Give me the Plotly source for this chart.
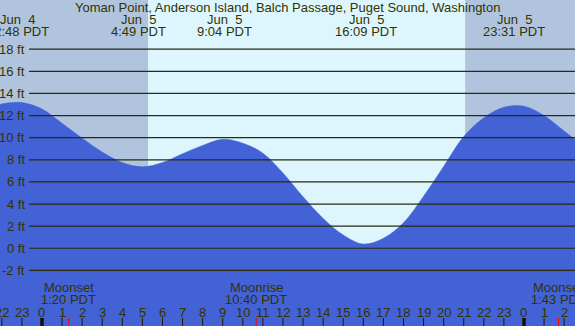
import plotly.graph_objects as go

# ---------------- data ----------------
title = "Yoman Point, Anderson Island, Balch Passage, Puget Sound, Washington"

# tide heights (ft); hours relative to Jun 5 00:00 PDT
tide_hours = [-3, -2, -1, 0, 1, 2, 3, 4, 5, 6, 7, 8, 9, 10, 11, 12, 13, 14, 15, 16,
              17, 18, 19, 20, 21, 22, 23, 24, 25, 26, 27]
tide_ft = [12.5, 13.05, 13.18, 12.6, 11.3, 9.95, 8.7, 7.75, 7.37, 7.75, 8.55, 9.3, 9.85,
           9.5, 8.6, 6.8, 4.65, 2.7, 1.2, 0.38, 0.9, 2.3, 4.7, 7.4, 10.1, 11.8, 12.75,
           12.85, 12.0, 10.6, 9.2]

# extremes labelled on top
extreme_hours = [-1.2, 4.817, 9.067, 16.15, 23.517]
extreme_dates = ["Jun\u00a0 4", "Jun\u00a0 5", "Jun\u00a0 5", "Jun\u00a0 5", "Jun\u00a0 5"]
extreme_times = ["22:48 PDT", "4:49 PDT", "9:04 PDT", "16:09 PDT", "23:31 PDT"]

# sun
sunrise_hour = 5.28
sunset_hour = 21.07

# moon events
moon_hours = [1.333, 10.667, 25.717]
moon_names = ["Moonset", "Moonrise", "Moonset"]
moon_times = ["1:20 PDT", "10:40 PDT", "1:43 PDT"]

# axis ticks
hour_ticks = list(range(-2, 27))
hour_labels = [str(h % 24) for h in hour_ticks]
ft_ticks = [18, 16, 14, 12, 10, 8, 6, 4, 2, 0, -2]
ft_labels = [f"{v} ft" for v in ft_ticks]

# ---------------- style ----------------
W, H = 575, 326
X_RANGE = [-2.09, 26.54]
Y_RANGE = [-7.03, 22.45]
FONT = "Liberation Sans, Arial, sans-serif"
TXT = "#333300"
DAY = "#DDF6FD"
NIGHT = "#B0C4DE"
WATER = "#4262D6"
GRID = "#2A2A0E"

fig = go.Figure()

fig.add_trace(go.Scatter(x=[X_RANGE[0] - 1, X_RANGE[1] + 1], y=[-10, -10],
                         mode="lines", line=dict(width=0), hoverinfo="skip",
                         showlegend=False))
fig.add_trace(go.Scatter(x=tide_hours, y=tide_ft, mode="lines",
                         line=dict(color=WATER, width=0.5, shape="spline", smoothing=1.0),
                         fill="tonexty", fillcolor=WATER, hoverinfo="skip",
                         showlegend=False))

shapes = []
# night shading
shapes.append(dict(type="rect", xref="x", yref="paper", x0=X_RANGE[0] - 1, x1=sunrise_hour,
                   y0=0, y1=1, fillcolor=NIGHT, line=dict(width=0), layer="below"))
shapes.append(dict(type="rect", xref="x", yref="paper", x0=sunset_hour, x1=X_RANGE[1] + 1,
                   y0=0, y1=1, fillcolor=NIGHT, line=dict(width=0), layer="below"))
# horizontal grid lines
for v in ft_ticks:
    shapes.append(dict(type="line", xref="paper", yref="y", x0=29 / W, x1=1, y0=v, y1=v,
                       line=dict(color=GRID, width=1.2), layer="above"))
# hour ticks
for h in hour_ticks:
    midnight = (h % 24 == 0)
    shapes.append(dict(type="line", xref="x", yref="paper", x0=h, x1=h,
                       y0=0, y1=8 / H,
                       line=dict(color="#1a1a00" if not midnight else "#111100",
                                 width=3.5 if midnight else 1), layer="above"))
# moon ticks
for h in moon_hours:
    shapes.append(dict(type="line", xref="x", yref="paper", x0=h, x1=h,
                       y0=0, y1=8 / H, line=dict(color="#FF0000", width=1), layer="above"))

ann = []
ann.append(dict(text=title, x=0.5, y=1 - 7.5 / H, xref="paper", yref="paper",
                xanchor="center", yanchor="middle", showarrow=False,
                font=dict(family=FONT, size=13, color=TXT)))
for h, d, t in zip(extreme_hours, extreme_dates, extreme_times):
    ann.append(dict(text=d, x=h, y=1 - 19.5 / H, xref="x", yref="paper",
                    xanchor="center", yanchor="middle", showarrow=False,
                    font=dict(family=FONT, size=13, color=TXT)))
    ann.append(dict(text=t, x=h, y=1 - 31.5 / H, xref="x", yref="paper",
                    xanchor="center", yanchor="middle", showarrow=False,
                    font=dict(family=FONT, size=13, color=TXT)))
for v, lab in zip(ft_ticks, ft_labels):
    ann.append(dict(text=lab, x=27 / W, y=v, xref="paper", yref="y",
                    xanchor="right", yanchor="middle", showarrow=False,
                    font=dict(family=FONT, size=13, color=TXT)))
for h, lab in zip(hour_ticks, hour_labels):
    ann.append(dict(text=lab, x=h, y=(H - 312) / H, xref="x", yref="paper",
                    xanchor="center", yanchor="middle", showarrow=False,
                    font=dict(family=FONT, size=13, color=TXT)))
for h, n, t in zip(moon_hours, moon_names, moon_times):
    ann.append(dict(text=n, x=h, y=(H - 287.5) / H, xref="x", yref="paper",
                    xanchor="center", yanchor="middle", showarrow=False,
                    font=dict(family=FONT, size=13, color=TXT)))
    ann.append(dict(text=t, x=h, y=(H - 299.5) / H, xref="x", yref="paper",
                    xanchor="center", yanchor="middle", showarrow=False,
                    font=dict(family=FONT, size=13, color=TXT)))

fig.update_layout(
    width=W, height=H,
    margin=dict(l=0, r=0, t=0, b=0, pad=0),
    paper_bgcolor=DAY, plot_bgcolor=DAY,
    xaxis=dict(range=X_RANGE, visible=False, fixedrange=True),
    yaxis=dict(range=Y_RANGE, visible=False, fixedrange=True),
    shapes=shapes, annotations=ann, showlegend=False,
)

fig.write_html("out.html", config={"displayModeBar": False},
               post_script="document.body.style.margin='0';document.body.style.overflow='hidden';")
